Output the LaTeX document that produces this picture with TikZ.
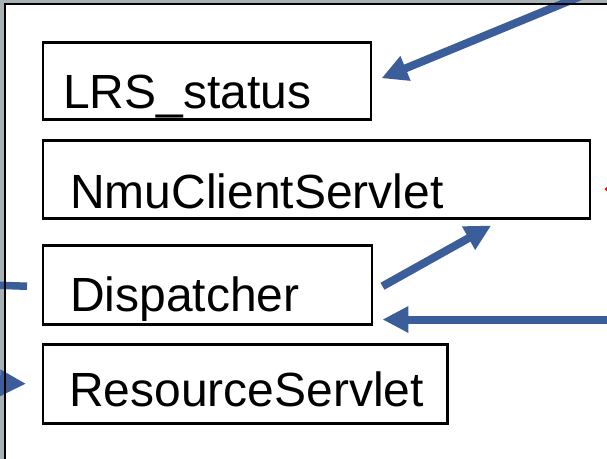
\documentclass[tikz,border=0pt]{standalone}
\usepackage{fontspec}
\setmainfont{Liberation Sans}
\usetikzlibrary{arrows.meta}
\definecolor{flowblue}{RGB}{59,94,154}
\definecolor{framegray}{RGB}{168,178,180}
\tikzset{
	comp/.style={draw, line width=0.05cm, anchor=north west, inner ysep=0pt, align=left, font=\fontsize{27.3}{31}\selectfont},
	flow/.style={draw=flowblue, line width=0.16cm, -{Triangle[length=0.52cm,width=0.5cm]}},
}
\begin{document}
\begin{tikzpicture}
	\useasboundingbox (0,0) rectangle (12.14,-9.18);
	\clip (0,0) rectangle (12.14,-9.18);
	\fill[framegray] (0,0) rectangle (12.14,-9.18);
	\fill[white] (0.1,-0.08) rectangle (12.6,-9.6);
	\node[comp, text width=5.76cm, inner xsep=0.40cm, text height=1.32cm, text depth=0.22cm] (lrs) at (0.84,-0.82) {LRS\_status};
	\node[comp, text width=9.86cm, inner xsep=0.54cm, text height=1.36cm, text depth=0.20cm] (nmu) at (0.84,-2.78) {NmuClientServlet};
	\node[comp, text width=5.50cm, inner xsep=0.54cm, text height=1.32cm, text depth=0.26cm] (disp) at (0.84,-4.88) {Dispatcher};
	\node[comp, text width=7.04cm, inner xsep=0.52cm, text height=1.24cm, text depth=0.34cm] (res) at (0.84,-6.86) {ResourceServlet};
	\coordinate (topin) at (12.4,0.4);
	\coordinate (rightin) at (12.4,-6.34);
	\coordinate (leftout) at (-0.2,-5.70);
	\coordinate (leftin) at (-0.6,-7.64);
	\coordinate (redin) at (13.0,-3.76);
	\coordinate (dispin) at ([xshift=0.18cm,yshift=0.12cm]disp.south east);
	\draw[flow] (topin) -- ([xshift=0.18cm,yshift=0.05cm]lrs.east);
	\draw[flow] ([xshift=0.18cm,yshift=-0.03cm]disp.east) -- ([xshift=3.49cm,yshift=-0.12cm]nmu.south);
	\draw[flow] (dispin -| rightin) -- (dispin);
	\draw[flowblue, line width=0.15cm] (leftout) -- ([xshift=-0.3cm,yshift=-0.03cm]disp.west);
	\draw[flow] (leftin) -- ([xshift=-0.32cm]res.west);
	\draw[red, line width=0.06cm, -{Triangle[length=0.3cm,width=0.5cm]}] (redin) -- ([xshift=0.26cm,yshift=-0.2cm]nmu.east);
	\draw[line width=0.045cm] (0.1,-9.6) -- (0.1,-0.08) -- (12.6,-0.08);
\end{tikzpicture}
\end{document}
